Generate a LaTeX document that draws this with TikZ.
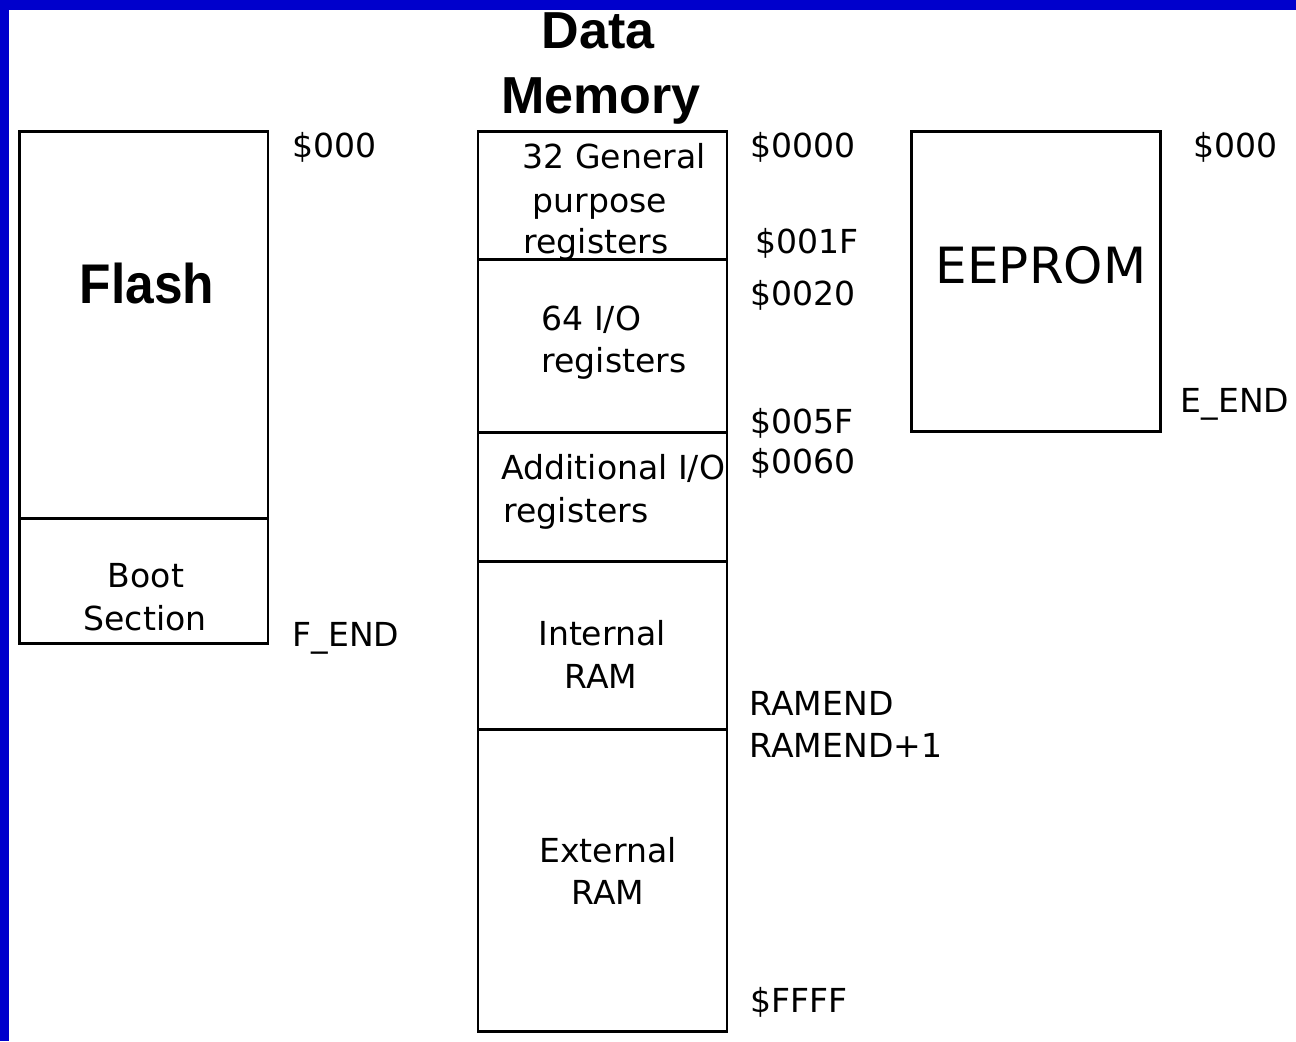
\documentclass[tikz,border=0pt]{standalone}
\usepackage{fontspec}
\setmainfont{DejaVu Sans}
\newfontfamily\headfont{Liberation Sans}
\newfontfamily\flashfont[FakeStretch=0.92]{Liberation Sans}
\definecolor{frameblue}{HTML}{0000CC}
\begin{document}
\begin{tikzpicture}[x=0.01cm, y=-0.01cm,
  box/.style={draw=black, line width=0.85pt},
  lbl/.style={inner sep=0pt, anchor=base west, font=\fontsize{9.4pt}{11pt}\selectfont},
  ctr/.style={inner sep=0pt, anchor=base, font=\fontsize{9.4pt}{11pt}\selectfont},
  head/.style={inner sep=0pt, anchor=base, font=\headfont\bfseries\fontsize{14.8pt}{17pt}\selectfont}]
\useasboundingbox (0,0) rectangle (1296,1041);
\fill[white] (0,0) rectangle (1296,1041);
% blue frame along the top and left edges
\fill[frameblue] (0,0) rectangle (1296,10);
\fill[frameblue] (0,0) rectangle (9,1041);

% ---- Flash memory ----
\coordinate (fTL) at (19.7,131.3);
\coordinate (fBR) at (268,643.3);
\coordinate (fDL) at (19.7,518);
\coordinate (fDR) at (268,518);
\draw[box] (fTL) rectangle (fBR);
\draw[box] (fDL) -- (fDR);
\node[inner sep=0pt, anchor=base, font=\flashfont\bfseries\fontsize{15.9pt}{18pt}\selectfont] (flash) at (147,303) {Flash};
\node[ctr] (boot) at (146,587) {Boot};
\node[ctr] (section) at (145,630) {Section};
\node[lbl] (f000) at (292,157) {\$000};
\node[lbl] (fend) at (292,646) {F\_END};

% ---- Data memory ----
\node[head] (data) at (598,48) {Data};
\node[head] (memory) at (601,113) {Memory};
\coordinate (dTL) at (478,131.3);
\coordinate (dBR) at (727,1031.7);
\draw[box] (dTL) rectangle (dBR);
\foreach \n/\yy in {d1/259.7, d2/432.3, d3/561.5, d4/729.7} {
  \coordinate (\n L) at (478,\yy);
  \coordinate (\n R) at (727,\yy);
}
\node[lbl] (gp1) at (522,168) {32 General};
\node[lbl] (gp2) at (532,212) {purpose};
\node[lbl] (gp3) at (523,253) {registers};
\node[lbl] (io1) at (541,330) {64 I/O};
\node[lbl] (io2) at (541,372) {registers};
\node[lbl] (ax1) at (501,479) {Additional I/O};
\node[lbl] (ax2) at (503,522) {registers};
\node[ctr] (ir1) at (602,645) {Internal};
\node[ctr] (ir2) at (601,688) {RAM};
\node[ctr] (er1) at (608,862) {External};
\node[ctr] (er2) at (608,904) {RAM};
\foreach \n in {d1,d2,d3,d4} { \draw[box] (\n L) -- (\n R); }

\node[lbl] (a0000) at (750,157) {\$0000};
\node[lbl] (a001F) at (755,253) {\$001F};
\node[lbl] (a0020) at (750,305) {\$0020};
\node[lbl] (a005F) at (750,433) {\$005F};
\node[lbl] (a0060) at (750,473) {\$0060};
\node[lbl] (ramend) at (749,715) {RAMEND};
\node[lbl] (ramend1) at (749,757) {RAMEND+1};
\node[lbl] (aFFFF) at (750,1012) {\$FFFF};

% ---- EEPROM ----
\coordinate (eTL) at (911.7,131.7);
\coordinate (eBR) at (1160,431.7);
\draw[box] (eTL) rectangle (eBR);
\node[inner sep=0pt, anchor=base, font=\fontsize{14.2pt}{17pt}\selectfont] (eeprom) at (1041,283) {EEPROM};
\node[lbl] (e000) at (1193,157) {\$000};
\node[lbl] (eend) at (1180,412) {E\_END};
\end{tikzpicture}
\end{document}
